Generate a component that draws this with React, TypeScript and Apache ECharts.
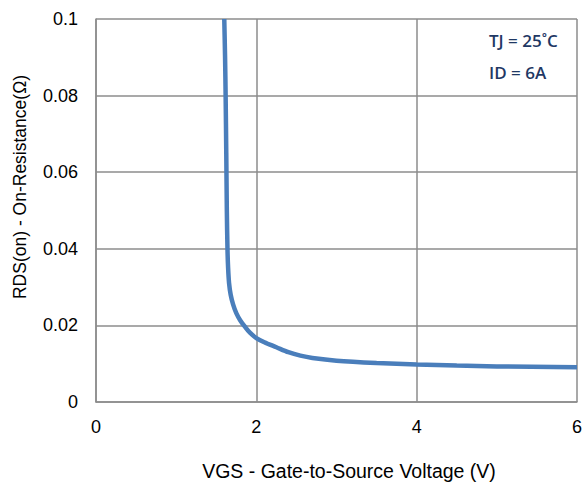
import React, { useEffect, useRef } from "react";
import * as echarts from "echarts";

const vgs = [1.6, 1.61, 1.617, 1.625, 1.632, 1.64, 1.648, 1.66, 1.68, 1.71, 1.75, 1.8, 1.86, 1.92, 2.0, 2.1, 2.25, 2.4, 2.55, 2.7, 3.0, 3.5, 4.0, 4.5, 5.0, 6.0];
const rdson = [0.1, 0.09, 0.08, 0.065, 0.05, 0.04, 0.035, 0.031, 0.028, 0.0255, 0.0232, 0.0213, 0.0196, 0.0181, 0.0167, 0.0156, 0.0143, 0.013, 0.0121, 0.0115, 0.0108, 0.0102, 0.0098, 0.0095, 0.0093, 0.0091];
const xTicks = { min: 0, max: 6, interval: 2 };
const yTicks = { min: 0, max: 0.1, interval: 0.02 };
const xName = "VGS - Gate-to-Source Voltage (V)";
const yName = "RDS(on) - On-Resistance(Ω)";
const notes = ["TJ = 25˚C", "ID = 6A"];

export default function App() {
  const ref = useRef<HTMLDivElement>(null);
  useEffect(() => {
    if (!ref.current) return;
    const chart = echarts.init(ref.current, null, { renderer: "svg" });
    const gridColor = "#8c8c8c";
    const font = "'Liberation Sans', Arial, sans-serif";
    const noteStyle = { fontFamily: "'Open Sans', sans-serif", fontWeight: 600, fontSize: 17, fill: "#1f3864", verticalAlign: "middle" };
    chart.setOption({
      animation: false,
      backgroundColor: "#ffffff",
      grid: { left: 96, right: 9, top: 19, bottom: 81 },
      xAxis: {
        type: "value",
        min: xTicks.min,
        max: xTicks.max,
        interval: xTicks.interval,
        axisLine: { show: true, lineStyle: { color: gridColor, width: 1.5 } },
        axisTick: { show: false },
        axisLabel: { fontFamily: font, fontSize: 18, color: "#000", margin: 16 },
        splitLine: { show: true, lineStyle: { color: gridColor, width: 1.5 } },
      },
      yAxis: {
        type: "value",
        min: yTicks.min,
        max: yTicks.max,
        interval: yTicks.interval,
        axisLine: { show: true, lineStyle: { color: gridColor, width: 1.5 } },
        axisTick: { show: false },
        axisLabel: { fontFamily: font, fontSize: 18, color: "#000", margin: 18 },
        splitLine: { show: true, lineStyle: { color: gridColor, width: 1.5 } },
      },
      series: [
        {
          type: "line",
          data: vgs.map((v, i) => [v, rdson[i]]),
          showSymbol: false,
          smooth: 0.3,
          lineStyle: { color: "#4a7ebb", width: 4.5 },
          clip: true,
        },
      ],
      graphic: [
        {
          type: "text",
          x: 349,
          y: 471,
          style: { text: xName, fontFamily: font, fontSize: 19.5, fill: "#000", textAlign: "center", verticalAlign: "middle" },
        },
        {
          type: "text",
          x: 20,
          y: 187,
          rotation: Math.PI / 2,
          style: { text: yName, fontFamily: font, fontSize: 17.5, fill: "#000", textAlign: "center", verticalAlign: "middle" },
        },
        { type: "text", x: 489, y: 40, style: { ...noteStyle, text: notes[0] } },
        { type: "text", x: 489, y: 72, style: { ...noteStyle, text: notes[1] } },
      ],
    });
    return () => chart.dispose();
  }, []);
  return <div ref={ref} style={{ width: 586, height: 483, position: "absolute", left: 0, top: 0 }} />;
}
